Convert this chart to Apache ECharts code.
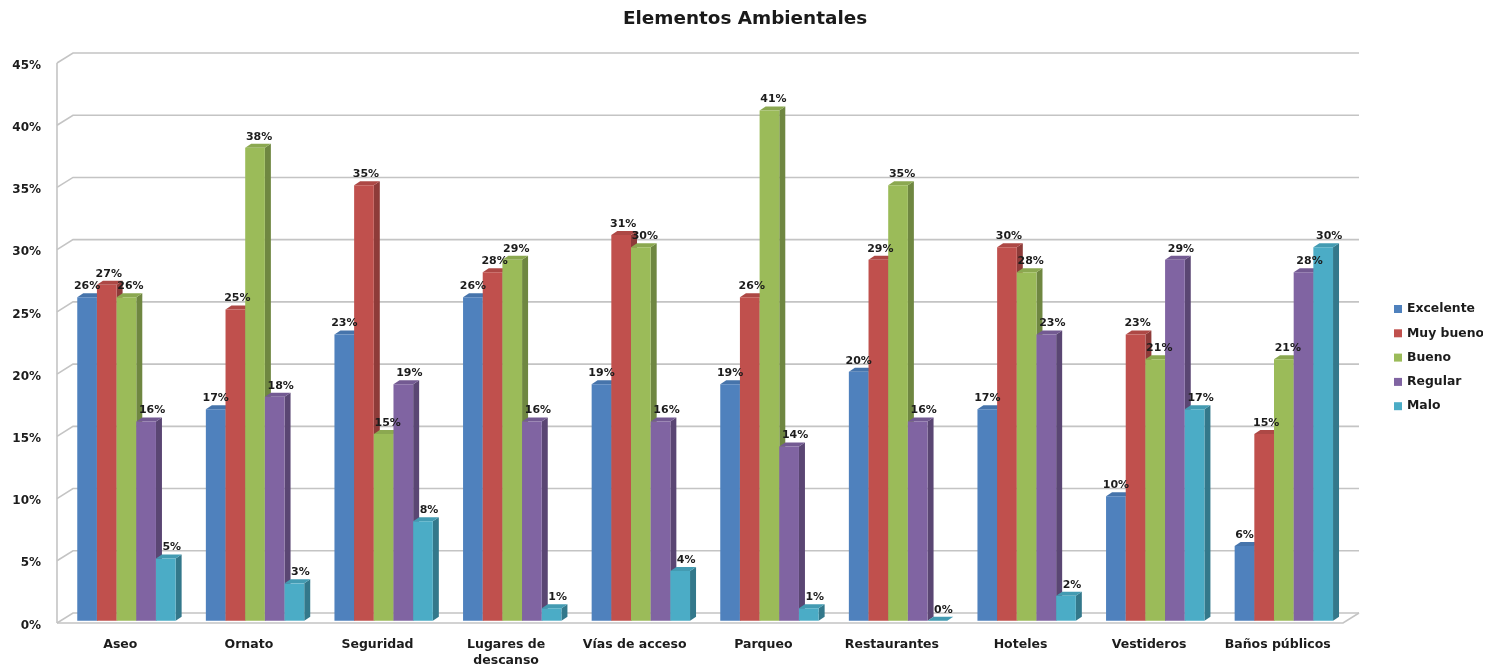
<!DOCTYPE html>
<html>
<head>
<meta charset="utf-8">
<style>
  html, body { margin: 0; padding: 0; background: #fff; }
  #chart { width: 1483px; height: 667px; overflow: hidden; }
</style>
<script src="https://cdn.jsdelivr.net/npm/echarts@6/dist/echarts.min.js"></script>
</head>
<body>
<div id="chart"></div>
<script>
const categories = ['Aseo', 'Ornato', 'Seguridad', 'Lugares de\ndescanso', 'Vías de acceso', 'Parqueo', 'Restaurantes', 'Hoteles', 'Vestideros', 'Baños públicos'];
const excelente = [26, 17, 23, 26, 19, 19, 20, 17, 10, 6];
const muyBueno = [27, 25, 35, 28, 31, 26, 29, 30, 23, 15];
const bueno = [26, 38, 15, 29, 30, 41, 35, 28, 21, 21];
const regular = [16, 18, 19, 16, 16, 14, 16, 23, 29, 28];
const malo = [5, 3, 8, 1, 4, 1, 0, 2, 17, 30];
const yTicks = [0, 5, 10, 15, 20, 25, 30, 35, 40, 45];

const seriesNames = ['Excelente', 'Muy bueno', 'Bueno', 'Regular', 'Malo'];
const seriesValues = [excelente, muyBueno, bueno, regular, malo];
const faceColors = ['#4F81BD', '#C0504D', '#9BBB59', '#8064A2', '#4BACC6'];
const sideColors = ['#3A5F8C', '#8E3B39', '#6F8741', '#5A4673', '#33788B'];
const topColors = ['#4674AB', '#AD4845', '#8BA850', '#735A92', '#439BB2'];
const labelShift = [0, 2, 4, 6, 6];

// Perspective offsets of the faux 3D box and of each column
const WALL_DX = 16, WALL_DY = -10;
const BAR_DX = 6, BAR_DY = -4;
const TEXT = '#1c1c1c';
const FONT = 'DejaVu Sans';
const WALL = '#c4c4c4';

function poly(points, fill, z2) {
  return { type: 'polygon', shape: { points }, style: { fill }, z2 };
}

function columnRenderer(seriesIdx) {
  return function (params, api) {
    const cat = api.value(0), val = api.value(1);
    const band = api.size([1, 0])[0];
    const w = band * 0.153;
    const base = api.coord([cat, 0]);
    const head = api.coord([cat, val]);
    const x0 = base[0] + band * 0.04 + (seriesIdx - 2.5) * w;
    const x1 = x0 + w;
    const yb = base[1] - 2.3, yt = head[1] - 2.3;
    const z = 10 + seriesIdx * 2;
    return {
      type: 'group',
      children: [
        poly([[x1, yb], [x1 + BAR_DX, yb + BAR_DY], [x1 + BAR_DX, yt + BAR_DY], [x1, yt]], sideColors[seriesIdx], z),
        poly([[x0, yt], [x0 + BAR_DX, yt + BAR_DY], [x1 + BAR_DX, yt + BAR_DY], [x1, yt]], topColors[seriesIdx], z),
        { type: 'rect', shape: { x: x0, y: yt, width: w, height: yb - yt }, style: { fill: faceColors[seriesIdx] }, z2: z + 1 },
        {
          type: 'text', z2: 100,
          style: {
            x: x0 + w / 2 + labelShift[seriesIdx], y: yt - 11,
            text: val + '%', fill: TEXT,
            font: 'bold 11px "' + FONT + '"',
            align: 'center', verticalAlign: 'middle'
          }
        }
      ]
    };
  };
}

// Back wall, side wall and floor of the 3D plot box
function wallRenderer(params, api) {
  const v = api.value(1);
  const y = api.coord([0, v])[1];
  const g = params.coordSys;
  const left = g.x, right = g.x + g.width;
  const line = (pts) => ({ type: 'polyline', shape: { points: pts }, style: { stroke: WALL, lineWidth: 1.6, fill: null }, z2: 1 });
  const children = [
    line([[left, y], [left + WALL_DX, y + WALL_DY], [right + WALL_DX, y + WALL_DY]])
  ];
  if (v === 0) {
    children.push(line([[left, y], [right, y], [right + WALL_DX, y + WALL_DY]]));
    children.push(line([[left, y], [left, g.y]]));
  }
  return { type: 'group', children };
}

const chart = echarts.init(document.getElementById('chart'), null, { renderer: 'canvas' });
chart.setOption({
  animation: false,
  backgroundColor: '#ffffff',
  title: {
    text: 'Elementos Ambientales',
    left: 740, top: 5, textAlign: 'center',
    textStyle: { fontFamily: FONT, fontSize: 18.4, fontWeight: 'bold', color: '#1a1a1a' }
  },
  legend: {
    orient: 'vertical',
    left: 1394, top: 303, padding: 0,
    itemWidth: 8, itemHeight: 8, itemGap: 12.3,
    icon: 'rect',
    data: seriesNames,
    textStyle: { fontFamily: FONT, fontSize: 12.4, fontWeight: 'bold', color: TEXT }
  },
  grid: { left: 57, right: 140, top: 63, bottom: 44, outerBoundsMode: 'none' },
  xAxis: {
    type: 'category',
    data: categories,
    axisLine: { show: false },
    axisTick: { show: false },
    axisLabel: {
      interval: 0, margin: 13.5, padding: [0, 2, 0, 0],
      fontFamily: FONT, fontSize: 12.5, fontWeight: 'bold', color: TEXT, lineHeight: 16
    }
  },
  yAxis: {
    type: 'value',
    min: 0, max: 45, interval: 5,
    axisLine: { show: false },
    axisTick: { show: false },
    splitLine: { show: false },
    axisLabel: {
      margin: 16,
      formatter: '{pct|{value}%}',
      rich: {
        pct: { padding: [5, 0, 0, 0], fontFamily: FONT, fontSize: 12, fontWeight: 'bold', color: TEXT }
      }
    }
  },
  series: [
    {
      type: 'custom',
      name: 'walls',
      renderItem: wallRenderer,
      clip: false,
      silent: true,
      encode: { x: 0, y: 1 },
      data: yTicks.map((t) => [0, t])
    }
  ].concat(seriesNames.map((name, i) => ({
    type: 'custom',
    name,
    renderItem: columnRenderer(i),
    clip: false,
    encode: { x: 0, y: 1 },
    itemStyle: { color: faceColors[i] },
    data: seriesValues[i].map((v, c) => [c, v])
  })))
});
</script>
</body>
</html>
